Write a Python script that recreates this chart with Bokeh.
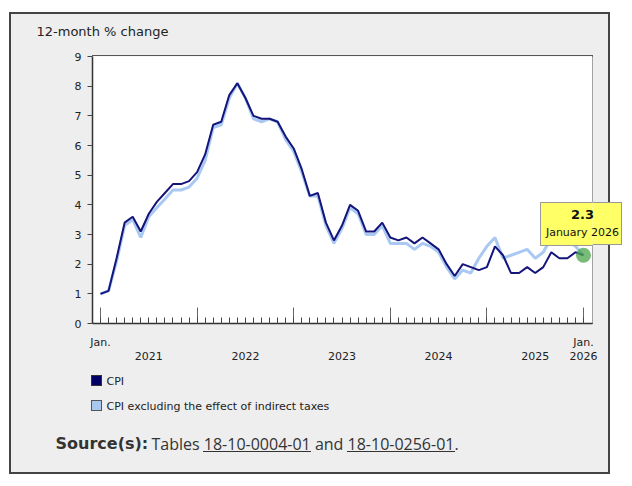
from bokeh.plotting import figure
from bokeh.models import FixedTicker, LinearAxis, BoxAnnotation, Label, Range1d
from bokeh.embed import file_html
from bokeh.resources import INLINE

# ---------------- data ----------------
months = list(range(61))  # Jan 2021 .. Jan 2026
cpi = [1.0, 1.1, 2.2, 3.4, 3.6, 3.1, 3.7, 4.1, 4.4, 4.7, 4.7, 4.8,
       5.1, 5.7, 6.7, 6.8, 7.7, 8.1, 7.6, 7.0, 6.9, 6.9, 6.8, 6.3,
       5.9, 5.2, 4.3, 4.4, 3.4, 2.8, 3.3, 4.0, 3.8, 3.1, 3.1, 3.4,
       2.9, 2.8, 2.9, 2.7, 2.9, 2.7, 2.5, 2.0, 1.6, 2.0, 1.9, 1.8,
       1.9, 2.6, 2.3, 1.7, 1.7, 1.9, 1.7, 1.9, 2.4, 2.2, 2.2, 2.4,
       2.3]
cpi_ex_tax = [1.0, 1.1, 2.1, 3.3, 3.5, 2.9, 3.6, 3.9, 4.2, 4.5, 4.5, 4.6,
              4.9, 5.5, 6.6, 6.7, 7.6, 8.1, 7.6, 6.9, 6.8, 6.9, 6.8, 6.2,
              5.8, 5.1, 4.3, 4.3, 3.3, 2.7, 3.2, 3.9, 3.7, 3.0, 3.0, 3.3,
              2.7, 2.7, 2.7, 2.5, 2.7, 2.6, 2.4, 1.9, 1.5, 1.8, 1.7, 2.2,
              2.6, 2.9, 2.2, 2.3, 2.4, 2.5, 2.2, 2.4, 2.9, 2.8, 2.8, 2.6,
              2.3]
year_ticks = [0, 12, 24, 36, 48, 60]
year_tick_labels = ["Jan.", "", "", "", "", "Jan."]
year_label_pos = [6, 18, 30, 42, 54, 60]
year_labels = ["2021", "2022", "2023", "2024", "2025", "2026"]
y_ticks = list(range(10))
series_names = ["CPI", "CPI excluding the effect of indirect taxes"]
tooltip_value = "2.3"
tooltip_date = "January 2026"

NAVY = "#14147a"
LIGHT = "#a9c9f2"
FONT = "DejaVu Sans"

# page-pixel -> data helpers for annotations placed outside the frame
def dx(px):
    return (px - 100) / 8.05

def dy(py):
    return (323 - py) / (267 / 9)

# decorative rectangles painted behind the (transparent) canvas border
# (colour, x, y, w, h) in page pixels; first entries are on top
deco = [
    ("#ffff66", 592, 203, 29, 41),   # tooltip part beyond the frame
    ("#999999", 592, 202, 30, 43),
    ("#555555", 92, 55, 501, 1),     # frame top edge
    ("#444444", 592, 55, 1, 269),    # frame right edge
    ("#000066", 92, 376, 9, 9),      # legend swatch CPI
    ("#333333", 91, 375, 11, 11),
    ("#a8c8f0", 92, 401, 9, 9),      # legend swatch CPI excl. taxes
    ("#555555", 91, 400, 11, 11),
    ("#333333", 203, 451, 108, 1),   # link underlines
    ("#333333", 347, 451, 108, 1),
    ("#444444", 9, 12, 601, 2),      # outer border
    ("#444444", 9, 472, 601, 2),
    ("#444444", 9, 12, 2, 462),
    ("#444444", 608, 12, 2, 462),
    ("#eeeeee", 9, 12, 601, 462),    # grey panel
]
bg = ", ".join(f"linear-gradient({c}, {c}) {x}px {y}px / {w}px {h}px no-repeat"
               for c, x, y, w, h in deco) + ", #ffffff"

p = figure(width=630, height=484,
           x_range=Range1d(dx(92), dx(592)), y_range=Range1d(0, 9),
           output_backend="svg", toolbar_location=None,
           min_border_left=92, min_border_right=38,
           min_border_top=56, min_border_bottom=161,
           border_fill_color=None, background_fill_color="white",
           outline_line_color=None,
           styles={"background": bg})
p.grid.visible = False

def outside(obj, place="below"):
    # text annotations in side panels are not clipped to the frame
    p.add_layout(obj, place)

# axes
xa = p.xaxis[0]
xa.ticker = FixedTicker(ticks=year_ticks, minor_ticks=months)
xa.major_label_overrides = {t: s for t, s in zip(year_ticks, year_tick_labels)}
xa.major_tick_in = 16
xa.major_tick_out = 0
xa.minor_tick_in = 6
xa.minor_tick_out = 0
xa.major_tick_line_color = "#666666"
xa.minor_tick_line_color = "#444444"
xa.axis_line_color = "#333333"
xa.axis_line_width = 1.5
xa.major_label_text_font = FONT
xa.major_label_text_font_size = "11px"
xa.major_label_text_color = "#222222"
xa.major_label_standoff = 12

xa2 = LinearAxis(ticker=FixedTicker(ticks=year_label_pos, minor_ticks=[]),
                 major_label_overrides={t: s for t, s in zip(year_label_pos, year_labels)},
                 axis_line_color=None, major_tick_line_color=None,
                 minor_tick_line_color=None, major_label_standoff=-6,
                 major_label_text_font=FONT, major_label_text_font_size="11px",
                 major_label_text_color="#222222")
p.add_layout(xa2, "below")

ya = p.yaxis[0]
ya.ticker = FixedTicker(ticks=y_ticks, minor_ticks=[])
ya.major_tick_out = 5
ya.major_tick_in = 0
ya.major_tick_line_color = "#444444"
ya.axis_line_color = "#333333"
ya.axis_line_width = 1.5
ya.major_label_text_font = FONT
ya.major_label_text_font_size = "11px"
ya.major_label_text_color = "#222222"
ya.major_label_standoff = 6

# series
p.line(months, cpi_ex_tax, line_color=LIGHT, line_width=3)
p.line(months, cpi, line_color=NAVY, line_width=2)
p.scatter([months[-1]], [cpi[-1]], size=15, fill_color="#4ca64c", fill_alpha=0.75,
          line_color=None)

# tooltip box (part inside the frame; the rest is painted in the page background)
p.add_layout(BoxAnnotation(left=dx(540), right=dx(640), top=dy(202), bottom=dy(245),
                           fill_color="#ffff66", fill_alpha=1, line_color="#999999",
                           line_alpha=1, line_width=1, level="annotation"))

# title
outside(Label(x=dx(36), y=dy(31), text="12-month % change", text_font=FONT,
              text_font_size="13px", text_color="#222222",
              text_baseline="middle", text_align="left", level="overlay"), "above")

# legend texts
for name, yc in zip(series_names, [380.5, 406]):
    outside(Label(x=dx(106), y=dy(yc), text=name, text_font=FONT,
                  text_font_size="11px", text_color="#222222",
                  text_baseline="middle", text_align="left", level="overlay"))

# source
outside(Label(x=dx(55), y=dy(443), text="Source(s):", text_font=FONT,
              text_font_style="bold", text_font_size="16px", text_color="#333333",
              text_baseline="middle", text_align="left", level="overlay"))
outside(Label(x=dx(151), y=dy(443), text="Tables 18-10-0004-01 and 18-10-0256-01.",
              text_font="Open Sans", text_font_size="16px", text_color="#333333",
              text_baseline="middle", text_align="left", level="overlay"))

# tooltip texts
outside(Label(x=dx(582), y=dy(214), text=tooltip_value, text_font=FONT,
              text_font_style="bold", text_font_size="13px", text_color="#111111",
              text_baseline="middle", text_align="center", level="overlay"), "above")
outside(Label(x=dx(582), y=dy(232), text=tooltip_date, text_font=FONT,
              text_font_size="11px", text_color="#111111",
              text_baseline="middle", text_align="center", level="overlay"))

open("out.html", "w").write(file_html(p, INLINE))
